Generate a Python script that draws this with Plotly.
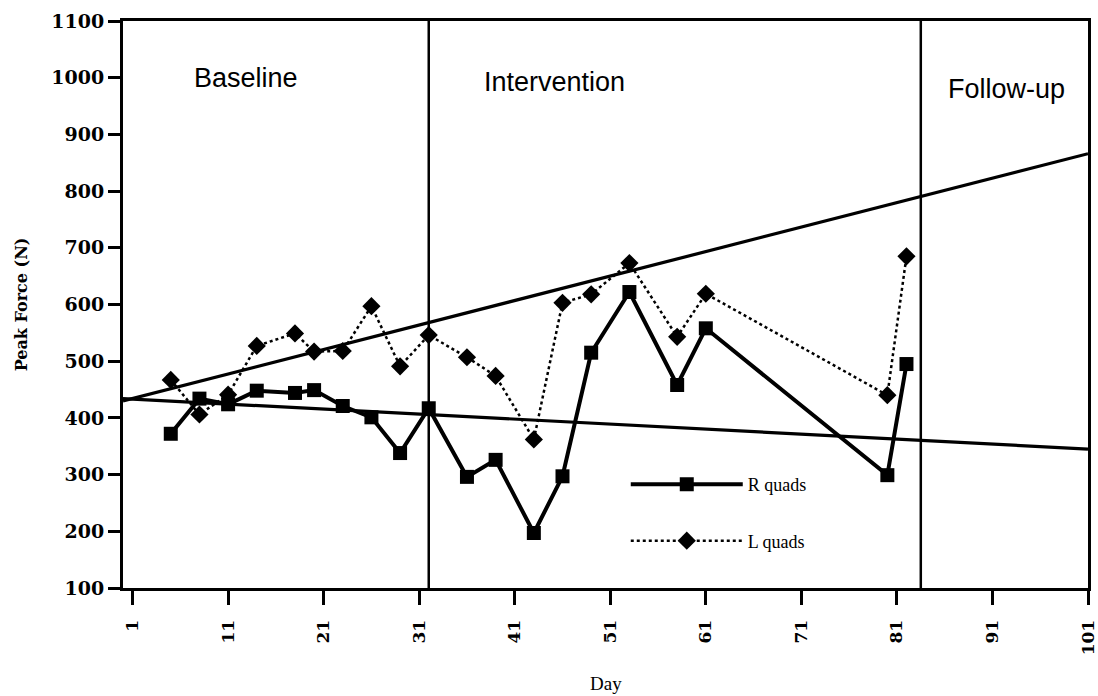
import plotly.graph_objects as go

# ---- data ----
days = [5, 8, 11, 14, 18, 20, 23, 26, 29, 32, 36, 39, 43, 46, 49, 53, 58, 61, 80, 82]
r_quads = [372, 434, 424, 448, 444, 449, 421, 401, 338, 417, 296, 326, 197, 297, 515, 622, 458, 558, 299, 495]
l_quads = [467, 406, 441, 527, 549, 517, 518, 597, 491, 546, 507, 474, 362, 603, 618, 673, 543, 619, 440, 685]

trend_x = [0, 101]
trend_up = [430, 866]
trend_down = [434, 345]

phase_changes = [32, 83.5]
phase_labels = ["Baseline", "Intervention", "Follow-up"]
phase_label_x = [12.9, 45.2, 92.5]
phase_label_y = [1000, 993, 980]

x_ticks = [1, 11, 21, 31, 41, 51, 61, 71, 81, 91, 101]
y_ticks = [100, 200, 300, 400, 500, 600, 700, 800, 900, 1000, 1100]

SERIF = "DejaVu Serif"
TIMES = "Liberation Serif, Times New Roman"

fig = go.Figure()

fig.add_trace(go.Scatter(x=trend_x, y=trend_up, mode="lines",
                         line=dict(color="black", width=3.2), showlegend=False, hoverinfo="skip"))
fig.add_trace(go.Scatter(x=trend_x, y=trend_down, mode="lines",
                         line=dict(color="black", width=3.2), showlegend=False, hoverinfo="skip"))

fig.add_trace(go.Scatter(x=days, y=r_quads, mode="lines+markers", name="R quads",
                         legendgroup="r",
                         line=dict(color="black", width=4),
                         marker=dict(symbol="square", size=14, color="black")))
fig.add_trace(go.Scatter(x=days, y=l_quads, mode="lines+markers", name="L quads",
                         legendgroup="l",
                         line=dict(color="black", width=2.5, dash="dot"),
                         marker=dict(symbol="diamond", size=14, color="black")))

for xc in phase_changes:
    fig.add_shape(type="line", xref="x", yref="paper", x0=xc, x1=xc, y0=0, y1=1,
                  line=dict(color="black", width=2.5))

for lab, lx, ly in zip(phase_labels, phase_label_x, phase_label_y):
    fig.add_annotation(x=lx, y=ly, xref="x", yref="y",
                       text=lab, showarrow=False,
                       font=dict(family="Liberation Sans, Arial", size=27, color="black"))

# x-axis title placed below the rotated tick labels
fig.add_annotation(x=0.5, y=-0.168, xref="paper", yref="paper", text="Day",
                   showarrow=False, yanchor="middle",
                   font=dict(family=TIMES, size=19, color="black"))

fig.update_layout(
    width=1098, height=696,
    margin=dict(l=123, r=10, t=21, b=108),
    paper_bgcolor="white", plot_bgcolor="white",
    showlegend=True,
    legend=dict(x=0.521, y=0.215, xanchor="left", yanchor="top",
                bgcolor="rgba(0,0,0,0)", itemwidth=112, tracegroupgap=30,
                font=dict(family=TIMES, size=18, color="black")),
    xaxis=dict(range=[0, 101], tickmode="array", tickvals=x_ticks,
               ticktext=[str(v) for v in x_ticks], tickangle=-90,
               automargin=False, ticklabeloverflow="allow",
               showgrid=False, zeroline=False,
               showline=True, linecolor="black", linewidth=3, mirror=True,
               ticks="outside", ticklen=14, tickwidth=2.5, tickcolor="black",
               ticklabelstandoff=8,
               tickfont=dict(family=SERIF, size=17, color="black", weight="bold")),
    yaxis=dict(range=[100, 1100], tickmode="array", tickvals=y_ticks,
               automargin=False,
               showgrid=False, zeroline=False,
               showline=True, linecolor="black", linewidth=3, mirror=True,
               ticks="outside", ticklen=12, tickwidth=3, tickcolor="black",
               tickfont=dict(family=SERIF, size=19, color="black", weight="bold"),
               title=dict(text="Peak Force (N)", standoff=20,
                          font=dict(family=SERIF, size=16, color="black", weight="bold"))),
)

fig.write_html("out.html")
